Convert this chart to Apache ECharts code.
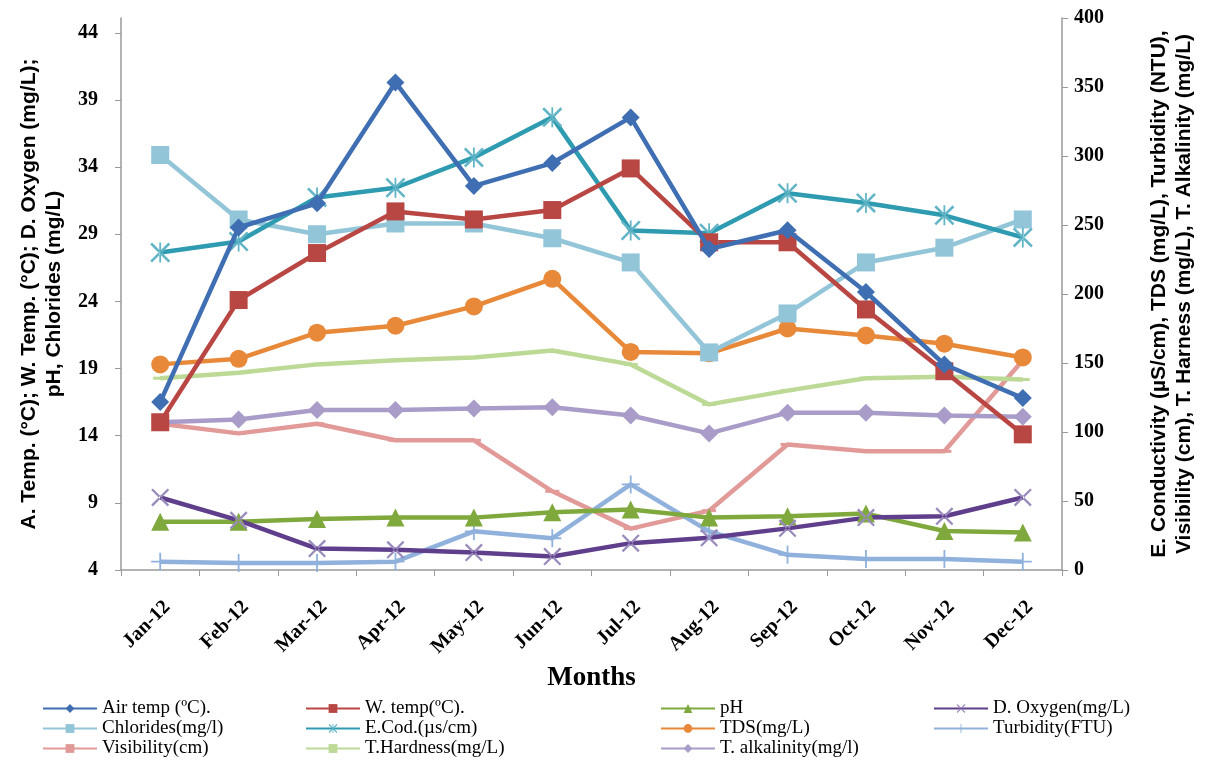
<!DOCTYPE html>
<html>
<head>
<meta charset="utf-8">
<script src="https://cdn.jsdelivr.net/npm/echarts@6/dist/echarts.min.js"></script>
<style>html,body{margin:0;padding:0;background:#fff}#c{width:1205px;height:763px}</style>
</head>
<body>
<div id="c"></div>
<script>
var months = ['Jan-12','Feb-12','Mar-12','Apr-12','May-12','Jun-12','Jul-12','Aug-12','Sep-12','Oct-12','Nov-12','Dec-12'];
var leftTicks = [4, 9, 14, 19, 24, 29, 34, 39, 44];
var rightTicks = [0, 50, 100, 150, 200, 250, 300, 350, 400];
// left axis series
var airTemp    = [16.5, 29.5, 31.3, 40.3, 32.6, 34.3, 37.7, 27.9, 29.3, 24.7, 19.3, 16.8];
var waterTemp  = [15.0, 24.1, 27.6, 30.7, 30.1, 30.8, 33.9, 28.4, 28.4, 23.4, 18.8, 14.1];
var pH         = [7.6, 7.6, 7.8, 7.9, 7.9, 8.3, 8.5, 7.9, 8.0, 8.2, 6.9, 6.8];
var dOxygen    = [9.4, 7.7, 5.6, 5.5, 5.3, 5.0, 6.0, 6.4, 7.1, 7.9, 8.0, 9.4];
var chlorides  = [34.9, 30.1, 29.0, 29.8, 29.8, 28.7, 26.9, 20.2, 23.1, 26.9, 28.0, 30.1];
// right axis series
var eCond      = [230, 238, 270, 277, 299, 328, 246, 244, 273, 266, 257, 241];
var tds        = [149, 153, 172, 177, 191, 211, 158, 157, 175, 170, 164, 154];
var turbidity  = [6, 5, 5, 6, 28, 23, 62, 28, 11, 8, 8, 6];
var visibility = [106, 99, 106, 94, 94, 57, 30, 43, 91, 86, 86, 152];
var hardness   = [139, 143, 149, 152, 154, 159, 149, 120, 130, 139, 140, 138];
var alkalinity = [107, 109, 116, 116, 117, 118, 112, 99, 114, 114, 112, 111];

var names = {
  air: 'Air temp (ºC).', wt: 'W. temp(ºC).', ph: 'pH', dox: 'D. Oxygen(mg/L)',
  cl: 'Chlorides(mg/l)', ec: 'E.Cod.(µs/cm)', tds: 'TDS(mg/L)', tur: 'Turbidity(FTU)',
  vis: 'Visibility(cm)', th: 'T.Hardness(mg/L)', ta: 'T. alkalinity(mg/l)'
};

var xSym = 'path://M0,0.9 L0.9,0 L10,9.1 L9.1,10 Z M9.1,0 L0,9.1 L0.9,10 L10,0.9 Z';
var astSym = 'path://M0,0.9 L0.9,0 L10,9.1 L9.1,10 Z M9.1,0 L0,9.1 L0.9,10 L10,0.9 Z M4.55,0 L5.45,0 L5.45,10 L4.55,10 Z';
var plusSym = 'path://M4.5,0 L5.5,0 L5.5,4.5 L10,4.5 L10,5.5 L5.5,5.5 L5.5,10 L4.5,10 L4.5,5.5 L0,5.5 L0,4.5 L4.5,4.5 Z';
var dashSym = 'path://M0,0 L10,0 L10,2 L0,2 Z';

function mk(name, data, axis, color, symbol, size, mcolor, z) {
  return {
    name: name, type: 'line', data: data, yAxisIndex: axis,
    symbol: symbol, symbolSize: size, showAllSymbol: true,
    lineStyle: { color: color, width: 4.5 },
    itemStyle: { color: mcolor || color, borderWidth: 0 },
    emphasis: { disabled: true }, animation: false, z: z || 2
  };
}

var series = [
  mk(names.vis, visibility, 1, '#e29a98', dashSym, [14, 3], '#e29a98', 2),
  mk(names.th, hardness, 1, '#bcd996', dashSym, [14, 3], '#bcd996', 2),
  mk(names.ta, alkalinity, 1, '#a99cc8', 'diamond', 18, '#a99cc8', 3),
  mk(names.tur, turbidity, 1, '#8fb1dc', plusSym, 18, '#8fb1dc', 3),
  mk(names.ph, pH, 0, '#7fa93d', 'triangle', 18, '#7fa93d', 3),
  mk(names.dox, dOxygen, 0, '#5f3e8c', xSym, 18, '#9a8bbd', 3),
  mk(names.tds, tds, 1, '#e8893a', 'circle', 18, '#e8893a', 4),
  mk(names.cl, chlorides, 0, '#93c5d9', 'rect', 18, '#93c5d9', 4),
  mk(names.ec, eCond, 1, '#2e9bb0', astSym, 20, '#62b5c6', 5),
  mk(names.wt, waterTemp, 0, '#b84744', 'rect', 18, '#b84744', 5),
  mk(names.air, airTemp, 0, '#3f6fb2', 'diamond', 18, '#3f6fb2', 6)
];

var legendText = { fontFamily: 'Liberation Serif', fontSize: 19, color: '#000', lineHeight: 19 };
function leg(left, data) {
  return {
    orient: 'vertical', left: left, top: 694, itemWidth: 54, itemHeight: 11, itemGap: 1,
    data: data, textStyle: legendText, selectedMode: false
  };
}

var axisFont = { fontFamily: 'Liberation Serif', fontWeight: 'bold', fontSize: 20, color: '#000' };
var chart = echarts.init(document.getElementById('c'), null, { renderer: 'canvas' });
chart.setOption({
  backgroundColor: '#ffffff',
  animation: false,
  grid: { left: 121, right: 142, top: 18, bottom: 193, containLabel: false },
  legend: [
    leg(37, [names.air, names.cl, names.vis]),
    leg(300, [names.wt, names.ec, names.th]),
    leg(655, [names.ph, names.tds, names.ta]),
    leg(928, [names.dox, names.tur])
  ],
  xAxis: {
    type: 'category', data: months, boundaryGap: true,
    name: 'Months', nameLocation: 'middle', nameGap: 85,
    nameTextStyle: { fontFamily: 'Liberation Serif', fontWeight: 'bold', fontSize: 27, color: '#000' },
    axisLine: { lineStyle: { color: '#9a9a9a', width: 1.5 } },
    axisTick: { show: true, length: 6, lineStyle: { color: '#9a9a9a' } },
    axisLabel: { rotate: 45, interval: 0, margin: 27, verticalAlign: 'top', fontFamily: 'Liberation Serif', fontWeight: 'bold', fontSize: 20, color: '#000' },
    splitLine: { show: false }
  },
  yAxis: [
    {
      type: 'value', position: 'left', min: leftTicks[0], max: 45.1, interval: 5,
      name: 'A. Temp. (°C); W. Temp. (°C); D. Oxygen (mg/L);\npH, Chlorides (mg/L)',
      nameLocation: 'middle', nameRotate: 90, nameGap: 51,
      nameTextStyle: { fontFamily: 'Liberation Sans', fontWeight: 'bold', fontSize: 21, color: '#000', lineHeight: 25, align: 'center' },
      axisLine: { show: true, lineStyle: { color: '#9a9a9a', width: 1.5 } },
      axisTick: { show: true, length: 6, customValues: leftTicks, lineStyle: { color: '#9a9a9a' } },
      axisLabel: Object.assign({ margin: 23, customValues: leftTicks }, axisFont),
      splitLine: { show: false }
    },
    {
      type: 'value', position: 'right', min: rightTicks[0], max: rightTicks[rightTicks.length - 1], interval: 50,
      name: 'E. Conductivity (µS/cm), TDS (mg/L), Turbidity (NTU),\nVisibility (cm), T. Harness (mg/L), T. Alkalinity (mg/L)',
      nameLocation: 'middle', nameRotate: 90, nameGap: 85,
      nameTextStyle: { fontFamily: 'Liberation Sans', fontWeight: 'bold', fontSize: 21, color: '#000', lineHeight: 25, align: 'center' },
      axisLine: { show: true, lineStyle: { color: '#9a9a9a', width: 1.5 } },
      axisTick: { show: true, length: 6, lineStyle: { color: '#9a9a9a' } },
      axisLabel: Object.assign({ margin: 12 }, axisFont),
      splitLine: { show: false }
    }
  ],
  series: series
});
</script>
</body>
</html>
